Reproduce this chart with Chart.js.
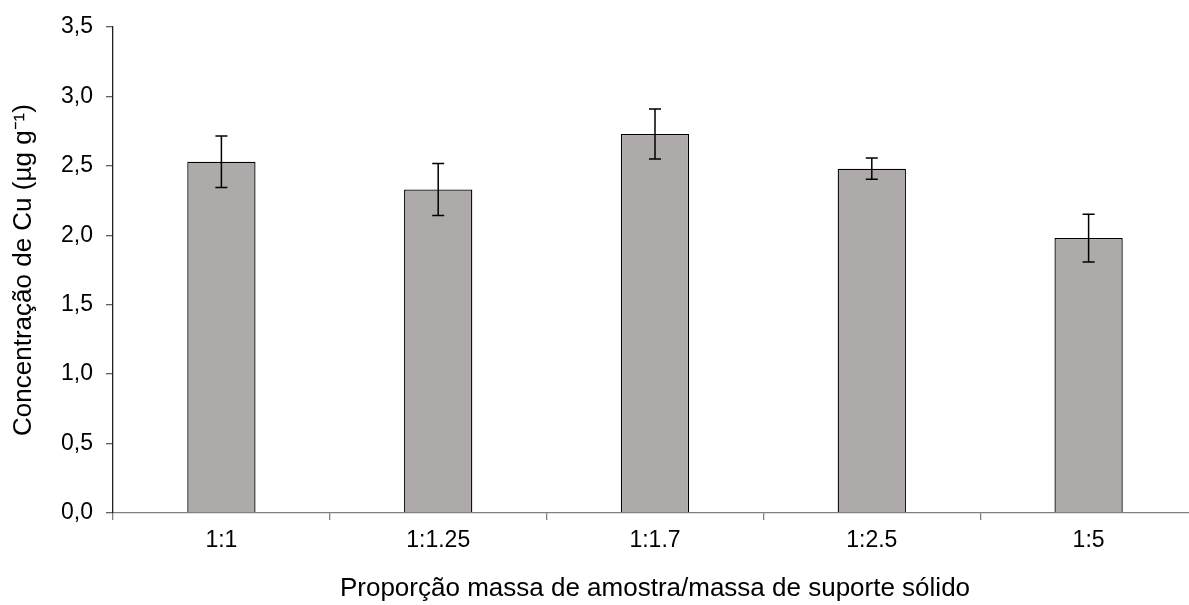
<!DOCTYPE html>
<html>
<head>
<meta charset="utf-8">
<script src="https://cdn.jsdelivr.net/npm/chart.js@4.4.1/dist/chart.umd.min.js"></script>
<style>
    html, body { margin: 0; padding: 0; background: #fff; overflow: hidden; }
    #wrap { width: 1197px; height: 605px; }
</style>
</head>
<body>
<div id="wrap"><canvas id="grafico"></canvas></div>
<script>
// Datos
const categorias = ['1:1', '1:1.25', '1:1.7', '1:2.5', '1:5'];
const concentracion = [2.53, 2.33, 2.73, 2.48, 1.98];
const desvio = [0.185, 0.187, 0.18, 0.077, 0.172];
const ticksY = [0, 0.5, 1.0, 1.5, 2.0, 2.5, 3.0, 3.5];

// Plugin para dibujar las barras de error
const barrasError = {
    id: 'barrasError',
    afterDatasetsDraw(chart) {
        const ctx = chart.ctx;
        const meta = chart.getDatasetMeta(0);
        const y = chart.scales.y;
        ctx.save();
        ctx.strokeStyle = '#000';
        ctx.lineWidth = 1.5;
        meta.data.forEach((bar, i) => {
            const x = bar.x;
            const top = y.getPixelForValue(concentracion[i] + desvio[i]);
            const bottom = y.getPixelForValue(concentracion[i] - desvio[i]);
            ctx.beginPath();
            ctx.moveTo(x, top);
            ctx.lineTo(x, bottom);
            ctx.moveTo(x - 6, top);
            ctx.lineTo(x + 6, top);
            ctx.moveTo(x - 6, bottom);
            ctx.lineTo(x + 6, bottom);
            ctx.stroke();
        });
        ctx.restore();
    }
};

Chart.defaults.font.family = '"Liberation Sans", Arial, sans-serif';
Chart.defaults.color = '#000';

const ctx = document.getElementById('grafico').getContext('2d');
new Chart(ctx, {
    type: 'bar',
    data: {
        labels: categorias,
        datasets: [{
            data: concentracion,
            backgroundColor: '#aeaaa9',
            borderColor: '#000',
            borderWidth: 1.3,
            barPercentage: 0.315,
            categoryPercentage: 1
        }]
    },
    options: {
        responsive: true,
        maintainAspectRatio: false,
        animation: false,
        layout: { padding: { top: 27, right: 0, left: 0, bottom: 0 } },
        plugins: {
            legend: { display: false },
            tooltip: { enabled: false }
        },
        scales: {
            x: {
                afterFit(scale) {
                    scale.height = 92;
                },
                grid: {
                    offset: true,
                    drawOnChartArea: false,
                    drawTicks: true,
                    tickLength: 7,
                    color: '#808080',
                    lineWidth: 1.3
                },
                border: { color: '#808080', width: 1.3 },
                ticks: { font: { size: 23 }, padding: 7 },
                title: {
                    display: true,
                    text: 'Proporção massa de amostra/massa de suporte sólido',
                    font: { size: 26 },
                    padding: { top: 0, bottom: 1 }
                }
            },
            y: {
                min: 0,
                max: 3.5,
                afterBuildTicks(scale) {
                    scale.ticks = ticksY.map(v => ({ value: v }));
                },
                afterFit(scale) {
                    scale.width = 113;
                },
                grid: {
                    drawOnChartArea: false,
                    drawTicks: true,
                    tickLength: 7,
                    color: '#606060',
                    lineWidth: 1.3
                },
                border: { color: '#202020', width: 1.3 },
                ticks: {
                    font: { size: 23 },
                    padding: 13,
                    callback: v => v.toFixed(1).replace('.', ',')
                },
                title: {
                    display: true,
                    text: 'Concentração de Cu (µg g⁻¹)',
                    font: { size: 26 },
                    padding: { top: 8, bottom: 0 }
                }
            }
        }
    },
    plugins: [barrasError]
});
</script>
</body>
</html>
